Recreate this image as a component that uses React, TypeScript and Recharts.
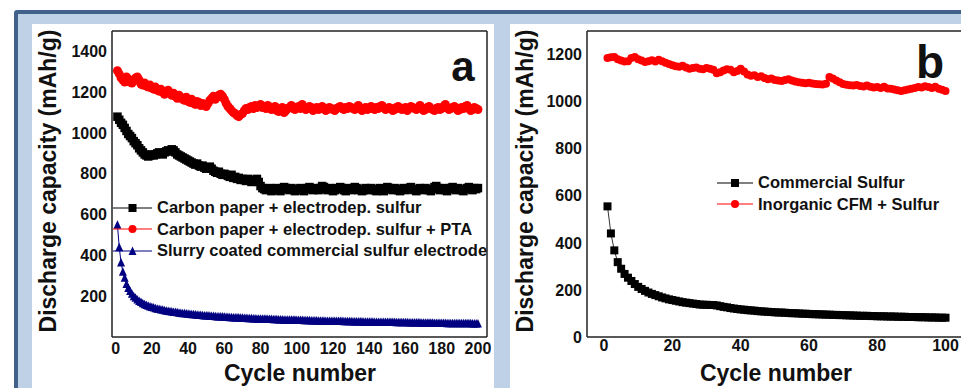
import React from 'react'
import { LineChart, Line, XAxis, YAxis, ReferenceLine } from 'recharts'

// panel a: discharge capacity (mAh/g) per cycle, cycles 1..200
const paperSulfur = [
  1080, 1065, 1050, 1040, 1025, 1010, 995, 985, 975, 960,
  950, 940, 925, 915, 905, 895, 890, 885, 890, 895,
  890, 895, 900, 905, 900, 895, 905, 910, 915, 910,
  920, 915, 905, 895, 890, 885, 880, 875, 870, 865,
  860, 855, 850, 845, 850, 840, 835, 840, 830, 825,
  830, 835, 825, 815, 810, 805, 810, 800, 795, 800,
  795, 790, 785, 795, 780, 785, 775, 780, 770, 775,
  770, 765, 775, 770, 760, 765, 770, 775, 760, 740,
  730, 725, 720, 725, 730, 715, 720, 725, 730, 720,
  715, 725, 735, 730, 725, 720, 730, 725, 715, 720,
  725, 730, 720, 715, 725, 730, 735, 725, 720, 730,
  725, 720, 730, 740, 735, 725, 720, 730, 725, 715,
  720, 730, 725, 735, 730, 720, 715, 725, 730, 720,
  725, 735, 730, 720, 725, 715, 720, 730, 725, 720,
  730, 725, 720, 715, 725, 730, 720, 715, 725, 735,
  730, 725, 720, 730, 725, 720, 715, 725, 730, 720,
  725, 730, 735, 725, 720, 715, 725, 730, 720, 725,
  730, 725, 720, 715, 725, 735, 740, 730, 720, 725,
  730, 720, 715, 725, 730, 735, 725, 720, 730, 725,
  720, 715, 725, 730, 735, 725, 720, 730, 725, 730,
]

const paperSulfurPta = [
  1305, 1290, 1270, 1260, 1250, 1275, 1265, 1250, 1245, 1255,
  1270, 1275, 1260, 1240, 1235, 1245, 1230, 1225, 1235, 1220,
  1215, 1225, 1210, 1205, 1215, 1200, 1190, 1200, 1210, 1195,
  1185, 1195, 1180, 1170, 1185, 1175, 1165, 1160, 1175, 1155,
  1150, 1165, 1145, 1140, 1155, 1150, 1135, 1145, 1140, 1130,
  1145, 1160, 1170, 1180, 1165, 1175, 1185, 1190, 1180, 1165,
  1145, 1130, 1120, 1110, 1100, 1095, 1085, 1080, 1090, 1095,
  1110, 1120, 1115, 1125, 1130, 1120, 1135, 1125, 1130, 1140,
  1125, 1130, 1120, 1135, 1125, 1115, 1120, 1130, 1110, 1105,
  1115, 1125, 1100, 1110, 1120, 1125, 1135, 1120, 1115, 1125,
  1130, 1120, 1140, 1125, 1115, 1120, 1130, 1125, 1110, 1120,
  1125, 1115, 1120, 1130, 1120, 1110, 1115, 1125, 1120, 1115,
  1110, 1120, 1125, 1130, 1120, 1115, 1125, 1120, 1130, 1125,
  1120, 1115, 1125, 1135, 1120, 1110, 1120, 1125, 1115, 1120,
  1130, 1120, 1115, 1125, 1120, 1130, 1135, 1125, 1115, 1120,
  1125, 1120, 1110, 1115, 1125, 1130, 1120, 1115, 1120, 1125,
  1110, 1120, 1130, 1125, 1120, 1115, 1125, 1135, 1120, 1110,
  1115, 1125, 1130, 1120, 1115, 1110, 1120, 1125, 1115, 1120,
  1130, 1140, 1125, 1115, 1120, 1125, 1130, 1120, 1110, 1115,
  1125, 1120, 1130, 1135, 1120, 1110, 1115, 1125, 1120, 1115,
]

const slurryCoated = [
  550, 440, 365, 320, 290, 260, 240, 225, 212, 200,
  192, 184, 177, 171, 166, 161, 157, 153, 150, 147,
  144, 141, 139, 137, 135, 133, 131, 129, 128, 126,
  125, 123, 122, 121, 119, 118, 117, 116, 115, 114,
  113, 112, 111, 110, 109, 108, 108, 107, 106, 105,
  105, 104, 103, 103, 102, 101, 101, 100, 100, 99,
  98, 98, 97, 97, 96, 96, 95, 95, 94, 94,
  93, 93, 92, 92, 92, 91, 91, 90, 90, 90,
  89, 89, 89, 88, 88, 88, 87, 87, 87, 86,
  86, 86, 85, 85, 85, 85, 84, 84, 84, 83,
  83, 83, 83, 82, 82, 82, 82, 81, 81, 81,
  81, 80, 80, 80, 80, 79, 79, 79, 79, 79,
  78, 78, 78, 78, 78, 77, 77, 77, 77, 77,
  76, 76, 76, 76, 76, 76, 75, 75, 75, 75,
  75, 75, 74, 74, 74, 74, 74, 74, 73, 73,
  73, 73, 73, 73, 72, 72, 72, 72, 72, 72,
  72, 71, 71, 71, 71, 71, 71, 71, 70, 70,
  70, 70, 70, 70, 70, 69, 69, 69, 69, 69,
  69, 69, 68, 68, 68, 68, 68, 68, 68, 67,
  67, 67, 67, 67, 67, 67, 66, 66, 66, 66,
]

// panel b: cycles 1..100
const commercialSulfur = [
  555, 440, 368, 318, 290, 268, 252, 238, 225, 213,
  204, 196, 189, 183, 178, 173, 168, 164, 160, 157,
  154, 151, 148, 146, 144, 142, 140, 138, 137, 137,
  136, 136, 134, 131, 128, 126, 123, 121, 119, 117,
  116, 114, 113, 112, 110, 109, 108, 107, 106, 105,
  104, 104, 103, 102, 101, 101, 100, 99, 99, 98,
  97, 97, 96, 96, 95, 95, 94, 94, 93, 93,
  92, 92, 91, 91, 90, 90, 90, 89, 89, 88,
  88, 88, 87, 87, 87, 86, 86, 86, 85, 85,
  85, 84, 84, 84, 83, 83, 83, 82, 82, 82,
]

const cfmSulfur = [
  1185, 1188, 1190, 1180, 1175, 1170, 1172, 1185, 1190, 1180,
  1175, 1168, 1172, 1176, 1170, 1178, 1172, 1165, 1160, 1155,
  1150, 1148, 1152, 1145, 1140, 1143, 1145, 1140, 1138, 1143,
  1140, 1135, 1120, 1125, 1132, 1138, 1135, 1125, 1130, 1140,
  1128, 1115, 1110, 1112, 1105, 1108, 1100, 1095, 1098, 1092,
  1090, 1088, 1092, 1095, 1090, 1085, 1082, 1080, 1078, 1080,
  1077, 1075, 1074, 1073, 1076, 1105, 1098, 1090, 1082, 1075,
  1072, 1070, 1068, 1071, 1066, 1064, 1068, 1063, 1060, 1062,
  1058, 1063, 1056, 1055, 1052, 1048, 1045, 1048, 1052, 1055,
  1058, 1062, 1060, 1065, 1062, 1058, 1063, 1055, 1050, 1045,
]

const ticksA_x = [0, 20, 40, 60, 80, 100, 120, 140, 160, 180, 200]
const ticksA_y = [200, 400, 600, 800, 1000, 1200, 1400]
const ticksB_x = [0, 20, 40, 60, 80, 100]
const ticksB_y = [0, 200, 400, 600, 800, 1000, 1200]

const legendA = [
  { name: 'Carbon paper + electrodep. sulfur', color: '#000000', shape: 'square' },
  { name: 'Carbon paper + electrodep. sulfur + PTA', color: '#ff0000', shape: 'circle' },
  { name: 'Slurry coated commercial sulfur electrode', color: '#000080', shape: 'triangle' },
]
const legendB = [
  { name: 'Commercial Sulfur', color: '#000000', shape: 'square' },
  { name: 'Inorganic CFM + Sulfur', color: '#ff0000', shape: 'circle' },
]

const dataA = paperSulfur.map((v, i) => ({
  cycle: i + 1,
  paper: v,
  pta: paperSulfurPta[i],
  slurry: slurryCoated[i],
}))
const dataB = commercialSulfur.map((v, i) => ({
  cycle: i + 1,
  commercial: v,
  cfm: cfmSulfur[i],
}))

const FONT = '"Liberation Sans", Arial, sans-serif'
const tickStyle = { fontFamily: FONT, fontSize: 16, fontWeight: 700, fill: '#111' }

function marker(shape: string, color: string, size: number) {
  return (props: any) => {
    const { cx, cy, index } = props
    if (cx == null || cy == null) return <g key={index} />
    const h = size / 2
    if (shape === 'square')
      return <rect key={index} x={cx - h} y={cy - h} width={size} height={size} fill={color} />
    if (shape === 'triangle')
      return (
        <polygon
          key={index}
          points={`${cx},${cy - h - 0.5} ${cx - h},${cy + h} ${cx + h},${cy + h}`}
          fill={color}
        />
      )
    return <circle key={index} cx={cx} cy={cy} r={h} fill={color} />
  }
}

function LegendBox({ items, left, top, lineW }: any) {
  return (
    <div style={{ position: 'absolute', left, top }}>
      {items.map((it: any) => (
        <div key={it.name} style={{ display: 'flex', alignItems: 'center', height: 21.5 }}>
          <svg width={lineW} height={12} style={{ marginRight: 5 }}>
            <line x1={0} y1={6} x2={lineW} y2={6} stroke={it.color} strokeWidth={1} />
            {marker(it.shape, it.color, 8)({ cx: lineW / 2, cy: 6, index: 0 })}
          </svg>
          <span style={{ fontFamily: FONT, fontSize: 16.5, fontWeight: 700, color: '#111', whiteSpace: 'nowrap' }}>
            {it.name}
          </span>
        </div>
      ))}
    </div>
  )
}

const titleStyle: React.CSSProperties = {
  position: 'absolute',
  fontFamily: FONT,
  fontSize: 23,
  fontWeight: 700,
  color: '#111',
  whiteSpace: 'nowrap',
  transform: 'translate(-50%, -50%)',
}

export default function App() {
  return (
    <div style={{ position: 'relative', width: 961, height: 388, overflow: 'hidden', background: '#fff' }}>
      <style>{'body{margin:0}'}</style>
      {/* frame */}
      <div style={{ position: 'absolute', left: 14, top: 10, width: 980, height: 400, background: '#41618b', borderTopLeftRadius: 3 }} />
      <div style={{ position: 'absolute', left: 18, top: 14, width: 980, height: 400, background: '#bed1e7' }} />
      <div style={{ position: 'absolute', left: 32, top: 24, width: 462, height: 380, background: '#fff' }} />
      <div style={{ position: 'absolute', left: 510, top: 24, width: 460, height: 380, background: '#fff' }} />

      {/* panel a */}
      <div style={{ position: 'absolute', left: 0, top: 0 }}>
        <LineChart width={500} height={388} data={dataA} margin={{ top: 31, right: 13, bottom: 21, left: 52 }}>
          <XAxis
            dataKey="cycle"
            type="number"
            domain={[-2, 205]}
            ticks={ticksA_x}
            interval={0}
            tickLine={false}
            tickSize={4}
            tickMargin={2}
            height={30}
            axisLine={{ stroke: '#222', strokeWidth: 1.5 }}
            tick={tickStyle}
          />
          <YAxis
            type="number"
            domain={[0, 1500]}
            ticks={ticksA_y}
            interval={0}
            tickLine={false}
            tickSize={3}
            tickMargin={2}
            width={60}
            axisLine={{ stroke: '#222', strokeWidth: 1.5 }}
            tick={tickStyle}
          />
          <ReferenceLine y={1500} stroke="#222" strokeWidth={1.5} />
          <ReferenceLine x={205} stroke="#222" strokeWidth={1.5} />
          <Line dataKey="slurry" stroke="#000080" strokeWidth={1} dot={marker('triangle', '#000080', 8)} isAnimationActive={false} />
          <Line dataKey="paper" stroke="#000" strokeWidth={1} dot={marker('square', '#000', 8.5)} isAnimationActive={false} />
          <Line dataKey="pta" stroke="#ff0000" strokeWidth={1} dot={marker('circle', '#ff0000', 9)} isAnimationActive={false} />
        </LineChart>
      </div>

      {/* panel b */}
      <div style={{ position: 'absolute', left: 480, top: 0 }}>
        <LineChart width={500} height={388} data={dataB} margin={{ top: 31, right: 14, bottom: 21, left: 47 }}>
          <XAxis
            dataKey="cycle"
            type="number"
            domain={[-5, 106]}
            ticks={ticksB_x}
            interval={0}
            tickLine={false}
            tickSize={1}
            tickMargin={2}
            height={30}
            axisLine={{ stroke: '#222', strokeWidth: 1.5 }}
            tick={tickStyle}
          />
          <YAxis
            type="number"
            domain={[0, 1300]}
            ticks={ticksB_y}
            interval={0}
            tickLine={false}
            tickSize={3}
            tickMargin={2}
            width={60}
            axisLine={{ stroke: '#222', strokeWidth: 1.5 }}
            tick={tickStyle}
          />
          <ReferenceLine y={1300} stroke="#222" strokeWidth={1.5} />
          <Line dataKey="commercial" stroke="#333" strokeWidth={1} dot={marker('square', '#000', 8)} isAnimationActive={false} />
          <Line dataKey="cfm" stroke="#ff0000" strokeWidth={1} dot={marker('circle', '#ff0000', 8)} isAnimationActive={false} />
        </LineChart>
      </div>

      <LegendBox items={legendA} left={113} top={197} lineW={39} />
      <LegendBox items={legendB} left={717} top={172} lineW={36} />

      <div style={{ ...titleStyle, left: 48, top: 181, transform: 'translate(-50%, -50%) rotate(-90deg)' }}>
        Discharge capacity (mAh/g)
      </div>
      <div style={{ ...titleStyle, left: 525, top: 181, transform: 'translate(-50%, -50%) rotate(-90deg)' }}>
        Discharge capacity (mAh/g)
      </div>
      <div style={{ ...titleStyle, left: 300, top: 373 }}>Cycle number</div>
      <div style={{ ...titleStyle, left: 776, top: 373 }}>Cycle number</div>

      <div style={{ position: 'absolute', left: 463, top: 67, transform: 'translate(-50%, -50%)', fontFamily: FONT, fontSize: 42, fontWeight: 700, color: '#111' }}>
        a
      </div>
      <div style={{ position: 'absolute', left: 930, top: 62, transform: 'translate(-50%, -50%)', fontFamily: FONT, fontSize: 46, fontWeight: 700, color: '#111' }}>
        b
      </div>
    </div>
  )
}
